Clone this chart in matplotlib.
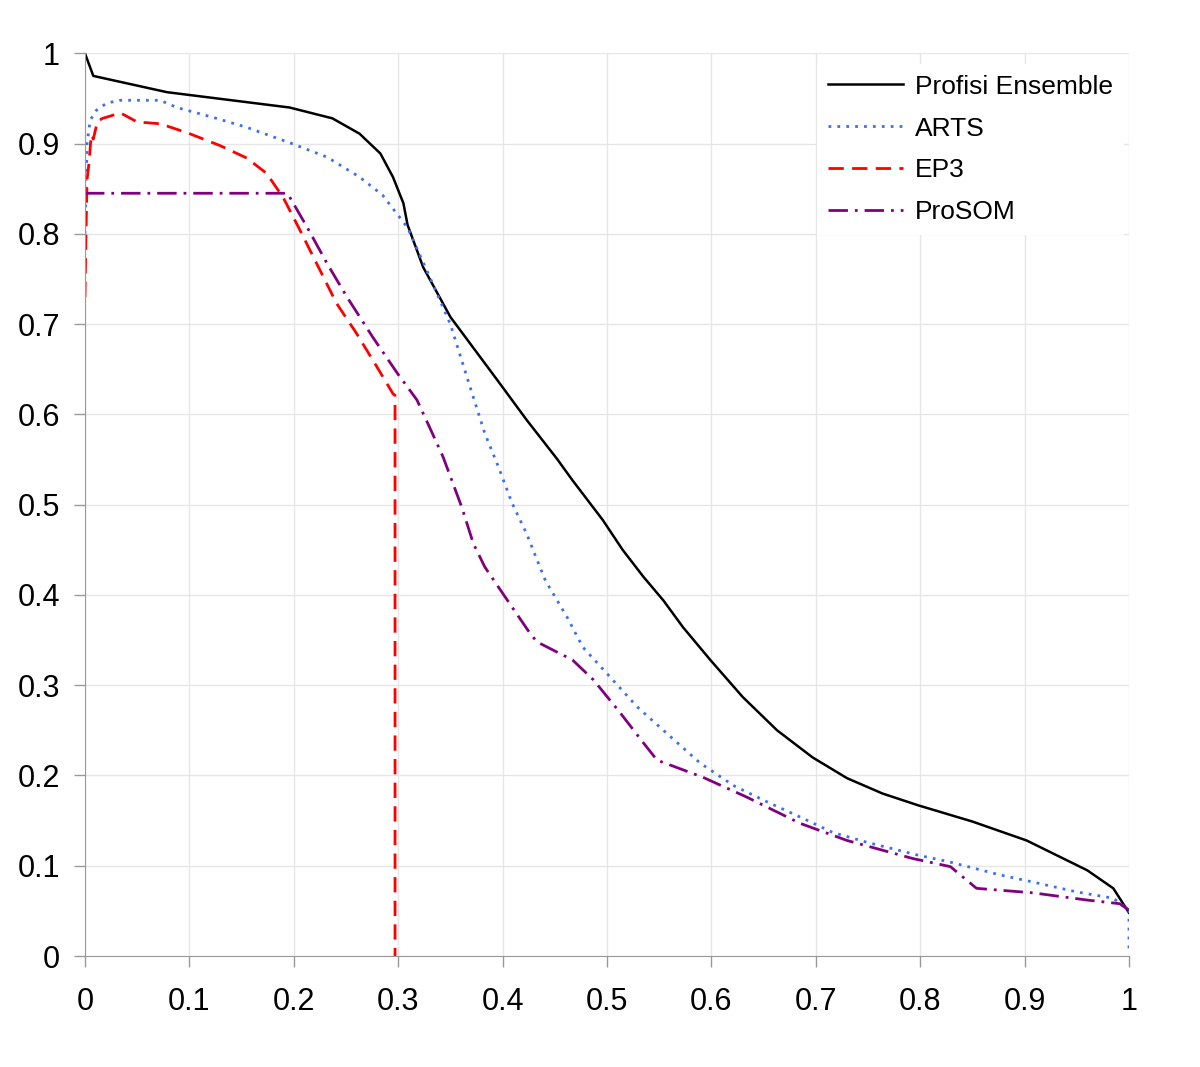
import matplotlib
matplotlib.use('Agg')
import matplotlib.pyplot as plt

# curves (x = fraction, y = value)
ens_x = [0.0, 0.008, 0.0785, 0.196, 0.237, 0.263, 0.283, 0.295, 0.305, 0.309, 0.324,
         0.35, 0.395, 0.423, 0.452, 0.467, 0.496, 0.515, 0.535, 0.554, 0.573, 0.599,
         0.63, 0.663, 0.697, 0.73, 0.764, 0.798, 0.85, 0.902, 0.96, 0.985, 1.0]
ens_y = [1.0, 0.975, 0.957, 0.94, 0.928, 0.911, 0.889, 0.863, 0.834, 0.81, 0.763,
         0.708, 0.638, 0.594, 0.551, 0.527, 0.483, 0.45, 0.42, 0.394, 0.364, 0.328,
         0.287, 0.25, 0.22, 0.197, 0.18, 0.167, 0.149, 0.128, 0.095, 0.075, 0.048]

arts_x = [0.0, 0.002, 0.005, 0.011, 0.021, 0.034, 0.072, 0.088, 0.123, 0.155, 0.196,
          0.232, 0.263, 0.285, 0.309, 0.333, 0.35, 0.369, 0.383, 0.396, 0.409, 0.423,
          0.433, 0.441, 0.462, 0.477, 0.496, 0.529, 0.557, 0.589, 0.621, 0.653, 0.685,
          0.716, 0.749, 0.797, 0.829, 0.876, 0.908, 0.95, 0.985, 1.0, 1.0]
arts_y = [0.80, 0.9, 0.926, 0.937, 0.945, 0.948, 0.948, 0.94, 0.929, 0.918, 0.901,
          0.885, 0.863, 0.843, 0.807, 0.745, 0.70, 0.63, 0.579, 0.542, 0.502, 0.468,
          0.439, 0.416, 0.375, 0.342, 0.318, 0.276, 0.247, 0.214, 0.189, 0.171, 0.154,
          0.137, 0.126, 0.112, 0.104, 0.09, 0.082, 0.071, 0.064, 0.051, 0.005]

ep3_x = [0.0, 0.001, 0.002, 0.004, 0.006, 0.008, 0.012, 0.017, 0.034, 0.05, 0.072,
         0.098, 0.129, 0.155, 0.174, 0.19, 0.206, 0.222, 0.241, 0.26, 0.28, 0.295,
         0.297, 0.297]
ep3_y = [0.73, 0.80, 0.86, 0.88, 0.91, 0.905, 0.925, 0.928, 0.934, 0.924, 0.922,
         0.912, 0.898, 0.884, 0.867, 0.84, 0.804, 0.767, 0.723, 0.69, 0.652, 0.623,
         0.621, 0.0]

prosom_x = [0.0, 0.194, 0.213, 0.232, 0.251, 0.276, 0.299, 0.318, 0.330, 0.343,
            0.361, 0.372, 0.383, 0.40, 0.426, 0.433, 0.467, 0.487, 0.513, 0.535,
            0.548, 0.592, 0.634, 0.685, 0.73, 0.793, 0.829, 0.854, 0.908, 0.96,
            0.991, 1.0]
prosom_y = [0.845, 0.845, 0.807, 0.767, 0.73, 0.685, 0.646, 0.616, 0.586, 0.553,
            0.497, 0.457, 0.431, 0.402, 0.358, 0.348, 0.328, 0.306, 0.269, 0.236,
            0.217, 0.198, 0.176, 0.147, 0.128, 0.108, 0.099, 0.075, 0.07, 0.062,
            0.058, 0.051]

labels = ['Profisi Ensemble', 'ARTS', 'EP3', 'ProSOM']

plt.rcParams['font.family'] = ['Liberation Sans', 'DejaVu Sans']

fig = plt.figure(figsize=(12, 10.67), dpi=100)
ax = fig.add_axes([0.0708, 0.104, 0.87, 0.846])

ax.plot(ens_x, ens_y, color='black', lw=1.8, label=labels[0])
ax.plot(arts_x, arts_y, color='#3F6FEF', lw=2.0, linestyle=(0, (1, 2.2)), label=labels[1])
ax.plot(ep3_x, ep3_y, color='#FF0000', lw=2.0, linestyle=(0, (5.5, 3)), label=labels[2])
ax.plot(prosom_x, prosom_y, color='#800080', lw=2.0, linestyle=(0, (7, 2.5, 1, 2.5)), label=labels[3])

ax.set_xlim(0, 1)
ax.set_ylim(0, 1)
ticks = [i / 10 for i in range(11)]
ax.set_xticks(ticks)
ax.set_yticks(ticks)
ax.set_xticklabels([f'{t:g}' for t in ticks])
ax.set_yticklabels([f'{t:g}' for t in ticks])
ax.tick_params(axis='both', labelsize=22, color='#999999', length=8, width=1)
ax.tick_params(axis='x', pad=14)
ax.tick_params(axis='y', pad=10)
ax.grid(True, color='#e6e6e6', lw=1)
ax.set_axisbelow(True)
for s in ['top', 'right']:
    ax.spines[s].set_visible(False)
for s in ['left', 'bottom']:
    ax.spines[s].set_color('#999999')
    ax.spines[s].set_clip_on(False)

leg = ax.legend(loc='upper right', bbox_to_anchor=(1.0, 0.994), fontsize=19,
                frameon=True, edgecolor='none', framealpha=1, fancybox=False,
                handlelength=2.85, handletextpad=0.45, labelspacing=0.68,
                borderaxespad=0.2)

fig.savefig('out.png', dpi=100)
